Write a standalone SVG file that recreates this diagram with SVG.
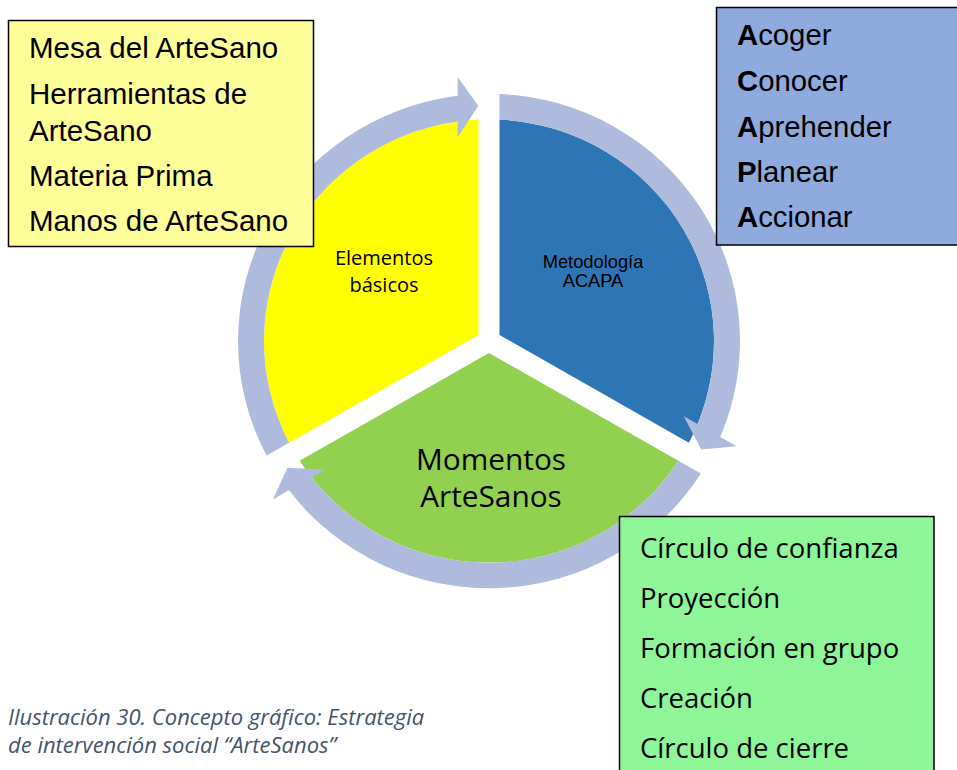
<svg xmlns="http://www.w3.org/2000/svg" xmlns:xlink="http://www.w3.org/1999/xlink" width="957" height="770" viewBox="0 0 957 770">
<style>
.ring{fill:#AFBBDD}
.box{stroke:#000;stroke-width:1.5}
.arial{font-family:"Liberation Sans",Arial,sans-serif;fill:#000}
.cal{font-family:"Open Sans","Noto Sans",sans-serif;fill:#000}
.cap{font-family:"Open Sans","Noto Sans",sans-serif;font-style:italic;fill:#44546A;font-size:22px}
</style>
<defs>
<path id="arc" d="M -222.42,116.30 A 251,251 0 0 1 -31.3,-249.04 L -31.3,-267.7 L -10.7,-238.9 L -31.3,-206.8 L -31.3,-222.82 A 225,225 0 0 0 -199.89,103.29 Z"/>
</defs>
<rect width="957" height="770" fill="#fff"/>
<g transform="translate(489,341) scale(1,0.985)">
<g id="sector-elementos"><path d="M -10.5,-6.06 L -10.5,-224.75 A 225,225 0 0 0 -199.89,103.29 Z" fill="#FFFF00"/></g>
<g id="sector-metodologia"><path d="M 10.5,-6.06 L 10.5,-224.75 A 225,225 0 0 1 199.89,103.29 Z" fill="#2E75B6"/></g>
<g id="sector-momentos"><path d="M 0,12.12 L 189.39,121.47 A 225,225 0 0 1 -189.39,121.47 Z" fill="#92D050"/></g>
<g id="connectors">
<use xlink:href="#arc" class="ring"/>
<use xlink:href="#arc" class="ring" transform="rotate(120)"/>
<use xlink:href="#arc" class="ring" transform="rotate(240)"/>
</g>
</g>
<g id="label-elementos" class="cal" font-size="20" text-anchor="middle">
<text x="384" y="265">Elementos</text>
<text x="384" y="292">básicos</text>
</g>
<g id="label-metodologia" class="arial" font-size="18.3" text-anchor="middle">
<text x="593" y="268">Metodología</text>
<text x="593" y="287">ACAPA</text>
</g>
<g id="label-momentos" class="cal" font-size="29.8" text-anchor="middle">
<text x="491" y="470">Momentos</text>
<text x="491" y="507">ArteSanos</text>
</g>
<g id="box-elementos">
<rect class="box" x="8.5" y="20.5" width="305" height="226" fill="#FFFF99"/>
<g class="arial" font-size="29.5">
<text x="29" y="58">Mesa del ArteSano</text>
<text x="29" y="103.5">Herramientas de</text>
<text x="29" y="140.5">ArteSano</text>
<text x="29" y="186">Materia Prima</text>
<text x="29" y="231">Manos de ArteSano</text>
</g>
</g>
<g id="box-acapa">
<rect class="box" x="716.5" y="7.5" width="250" height="237.5" fill="#8FAADC"/>
<g class="arial" font-size="29.3">
<text x="737" y="45"><tspan font-weight="bold">A</tspan>coger</text>
<text x="737" y="91"><tspan font-weight="bold">C</tspan>onocer</text>
<text x="737" y="136.5"><tspan font-weight="bold">A</tspan>prehender</text>
<text x="737" y="181.5"><tspan font-weight="bold">P</tspan>lanear</text>
<text x="737" y="226.5"><tspan font-weight="bold">A</tspan>ccionar</text>
</g>
</g>
<g id="box-momentos">
<rect class="box" x="619.5" y="516.5" width="314.5" height="270" fill="#8FF599"/>
<g class="cal" font-size="27.5">
<text x="640" y="557.5">Círculo de confianza</text>
<text x="640" y="607.5">Proyección</text>
<text x="640" y="657.5">Formación en grupo</text>
<text x="640" y="707.5">Creación</text>
<text x="640" y="758">Círculo de cierre</text>
</g>
</g>
<g id="caption" class="cap">
<text x="8" y="725">Ilustración 30. Concepto gráfico: Estrategia</text>
<text x="8" y="753">de intervención social “ArteSanos”</text>
</g>
</svg>
